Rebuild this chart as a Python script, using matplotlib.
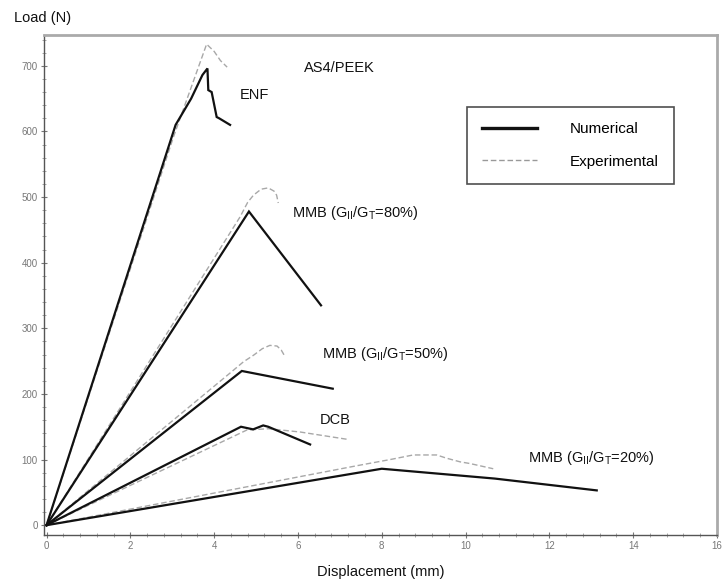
import matplotlib
matplotlib.use("Agg")
import matplotlib.pyplot as plt
from matplotlib.ticker import MultipleLocator
from matplotlib.lines import Line2D

plt.rcParams['font.family'] = ['Liberation Sans', 'DejaVu Sans']
plt.rcParams['mathtext.fontset'] = 'custom'
plt.rcParams['mathtext.rm'] = 'Liberation Sans'

# ---- data (displacement mm, load N) ----
enf_num_x = [0.0, 3.08, 3.45, 3.72, 3.84, 3.86, 3.94, 4.06, 4.12, 4.38]
enf_num_y = [0, 610, 650, 686, 696, 663, 660, 622, 620, 610]
enf_exp_x = [0.0, 3.02, 3.82, 4.0, 4.15, 4.31]
enf_exp_y = [0, 590, 733, 722, 708, 698]

m80_num_x = [0.0, 4.83, 6.55]
m80_num_y = [0, 478, 335]
m80_exp_x = [0.0, 4.62, 4.8, 4.94, 5.12, 5.29, 5.43, 5.49, 5.53]
m80_exp_y = [0, 470, 492, 503, 512, 514, 509, 503, 491]

m50_num_x = [0.0, 4.66, 6.83]
m50_num_y = [0, 235, 208]
m50_exp_x = [0.0, 4.42, 4.7, 4.94, 5.15, 5.33, 5.5, 5.6, 5.69]
m50_exp_y = [0, 234, 249, 259, 269, 274, 273, 267, 257]

dcb_num_x = [0.0, 4.64, 4.93, 5.17, 5.29, 6.29]
dcb_num_y = [0, 150, 146, 152, 150, 123]
dcb_exp_x = [0.0, 4.78, 5.3, 6.05, 7.16]
dcb_exp_y = [0, 145, 147, 142, 131]

m20_num_x = [0.0, 8.0, 10.7, 13.13]
m20_num_y = [0, 86, 71, 53]
m20_exp_x = [0.0, 7.48, 8.2, 8.75, 9.31, 9.55, 9.87, 10.1, 10.66]
m20_exp_y = [0, 91.5, 100, 107, 107, 102, 96.5, 94, 86]

xticks = [0, 2, 4, 6, 8, 10, 12, 14, 16]
yticks = [0, 100, 200, 300, 400, 500, 600, 700]

labels = [
    ("AS4/PEEK", 6.15, 696),
    ("ENF", 4.62, 656),
    (r"MMB (G$_\mathregular{II}$/G$_\mathregular{T}$=80%)", 5.86, 476),
    (r"MMB (G$_\mathregular{II}$/G$_\mathregular{T}$=50%)", 6.58, 261),
    ("DCB", 6.53, 160),
    (r"MMB (G$_\mathregular{II}$/G$_\mathregular{T}$=20%)", 11.49, 102),
]

fig = plt.figure(figsize=(7.23, 5.88), dpi=100)
ax = fig.add_axes([0.0609, 0.0901, 0.9308, 0.8504])

num_kw = dict(color='#111111', lw=1.6, solid_joinstyle='miter')
exp_kw = dict(color='#a8a8a8', lw=1.0, dashes=(4, 2))

series = [(enf_num_x, enf_num_y, enf_exp_x, enf_exp_y),
          (m80_num_x, m80_num_y, m80_exp_x, m80_exp_y),
          (m50_num_x, m50_num_y, m50_exp_x, m50_exp_y),
          (dcb_num_x, dcb_num_y, dcb_exp_x, dcb_exp_y),
          (m20_num_x, m20_num_y, m20_exp_x, m20_exp_y)]
for nx, ny, ex, ey in series:
    ax.plot(ex, ey, **exp_kw)
for nx, ny, ex, ey in series:
    ax.plot(nx, ny, **num_kw)

for txt, x, y in labels:
    ax.text(x, y, txt, fontsize=10.5, ha='left', va='center', color='#111111')

ax.set_xlim(-0.06, 16)
ax.set_ylim(-15, 747)
ax.set_xticks(xticks)
ax.set_yticks(yticks)
ax.xaxis.set_minor_locator(MultipleLocator(0.4))
ax.yaxis.set_minor_locator(MultipleLocator(20))
ax.tick_params(axis='both', which='major', labelsize=7, colors='#777777',
               direction='inout', length=5, width=0.8, pad=2)
ax.tick_params(axis='both', which='minor', colors='#999999',
               direction='inout', length=3, width=0.6)
for s in ['left', 'bottom']:
    ax.spines[s].set_color('#555555')
    ax.spines[s].set_linewidth(1.0)
for s in ['top', 'right']:
    ax.spines[s].set_color('#aaaaaa')
    ax.spines[s].set_linewidth(2.0)

fig.text(14/723, 1-18/588, "Load (N)", fontsize=10.5, ha='left', va='center', color='#111111')
fig.text(381/723, 1-572/588, "Displacement (mm)", fontsize=10.5, ha='center', va='center', color='#111111')

# legend
h_num = Line2D([], [], color='#111111', lw=2.4)
h_exp = Line2D([], [], color='#999999', lw=1.0, dashes=(4, 2))
leg = ax.legend([h_num, h_exp], ['Numerical', 'Experimental'],
                loc='upper left', bbox_to_anchor=(467/723, 1-107/588),
                bbox_transform=fig.transFigure, fontsize=11,
                frameon=True, fancybox=False, edgecolor='#222222',
                handlelength=3.6, handletextpad=2.1, borderpad=1.0,
                labelspacing=1.2, borderaxespad=0)
leg.get_frame().set_linewidth(1.2)

fig.savefig("out.png", dpi=100)
